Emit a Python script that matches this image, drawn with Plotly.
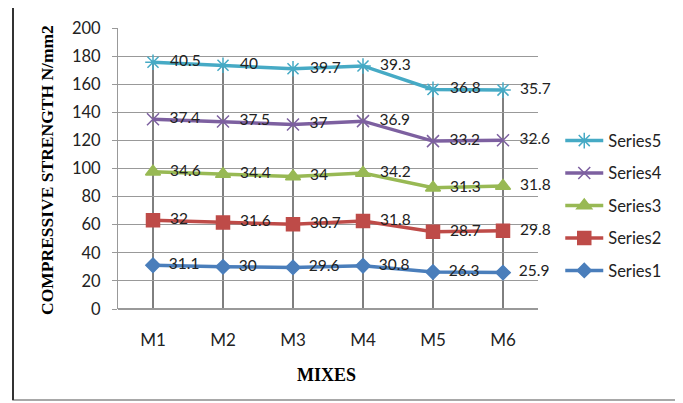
import plotly.graph_objects as go
import numpy as np

categories = ["M1", "M2", "M3", "M4", "M5", "M6"]
series1 = [31.1, 30, 29.6, 30.8, 26.3, 25.9]
series2 = [32, 31.6, 30.7, 31.8, 28.7, 29.8]
series3 = [34.6, 34.4, 34, 34.2, 31.3, 31.8]
series4 = [37.4, 37.5, 37, 36.9, 33.2, 32.6]
series5 = [40.5, 40, 39.7, 39.3, 36.8, 35.7]
series_names = ["Series1", "Series2", "Series3", "Series4", "Series5"]
y_ticks = list(range(0, 201, 20))

all_series = [series1, series2, series3, series4, series5]
colors = ["#4A7EBB", "#BE4B48", "#98B954", "#7D60A0", "#46AAC5"]
symbols = ["diamond", "square", "triangle-up", "x-thin-open", "asterisk-open"]
sizes = [11, 13, 13, 12, 13]

# stacked totals
stacked = np.cumsum(np.array(all_series, dtype=float), axis=0)

fig = go.Figure()
nb = "\u00a0"
for i in reversed(range(len(series_names))):
    vals = all_series[i]
    fig.add_trace(go.Scatter(
        x=categories, y=stacked[i], name=series_names[i], mode="lines+markers+text",
        text=[str(v) for v in vals], texttemplate=nb * 2 + "%{text}",
        textposition="middle right",
        textfont=dict(family="Lato", size=15.5, color="#222222"),
        line=dict(color=colors[i], width=3.5),
        marker=dict(symbol=symbols[i], size=sizes[i], color=colors[i],
                    line=dict(color=colors[i], width=1.5)),
        legendgroup=series_names[i], cliponaxis=False,
    ))

# drop lines from axis to top series
for c, top in zip(categories, stacked[-1]):
    fig.add_shape(type="line", xref="x", yref="y", x0=c, x1=c, y0=0, y1=top,
                  line=dict(color="black", width=1), layer="below")

# outer frame
fig.add_shape(type="rect", xref="paper", yref="paper", x0=-0.25, x1=1.338,
              y0=-0.324, y1=1.0747, line=dict(color="#8c8c8c", width=1.5))
fig.add_shape(type="line", xref="paper", yref="paper", x0=-0.25, x1=-0.25,
              y0=-0.324, y1=1.0747, line=dict(color="#333333", width=2))

fig.add_annotation(text="<b>COMPRESSIVE STRENGTH N/mm2</b>", xref="paper", yref="paper",
                   x=-0.169, y=0.495, textangle=-90, showarrow=False,
                   xanchor="center", yanchor="middle",
                   font=dict(family="Liberation Serif", size=17.5, color="black"))
fig.add_annotation(text="<b>MIXES</b>", xref="paper", yref="paper",
                   x=0.4976, y=-0.235, showarrow=False,
                   xanchor="center", yanchor="middle",
                   font=dict(family="Liberation Serif", size=18, color="black"))

fig.update_layout(
    width=675, height=395,
    margin=dict(l=110, r=145, t=20, b=94, autoexpand=False),
    paper_bgcolor="white", plot_bgcolor="white",
    showlegend=True,
    legend=dict(x=1.053, y=0.367, yanchor="middle", xanchor="left",
                traceorder="grouped", tracegroupgap=8,
                font=dict(family="Lato", size=16.5, color="#222222"),
                itemwidth=38, bgcolor="rgba(0,0,0,0)"),
    xaxis=dict(type="category", range=[-0.5, 5.5], showgrid=False,
               showline=False, ticks="", tickfont=dict(family="Lato", size=17, color="#222222"),
               ticklabelstandoff=19),
    yaxis=dict(range=[0, 200], tickvals=y_ticks, showgrid=True, gridcolor="#999999",
               gridwidth=1, showline=True, linecolor="#999999", ticks="outside",
               ticklen=5, tickcolor="#999999", zeroline=True, zerolinecolor="#999999",
               ticklabelstandoff=8,
               tickfont=dict(family="Lato", size=16.5, color="#222222")),
)
fig.write_html("out.html")
